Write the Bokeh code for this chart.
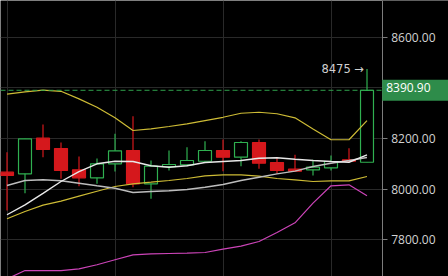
from bokeh.plotting import figure
from bokeh.models import Range1d, FixedTicker, NumeralTickFormatter, Label, Span, BoxAnnotation
from bokeh.embed import file_html
from bokeh.resources import INLINE

# ---- data ----
idx = list(range(21))
opens = [8066.5, 8060.2, 8201.2, 8160.4, 8076.0, 8044.4, 8099.8, 8152.5, 8020.6, 8089.0, 8095.8,
         8110.0, 8152.5, 8126.0, 8184.2, 8105.0, 8078.4, 8076.0, 8084.0, 8115.6, 8106.0]
closes = [8053.5, 8198.8, 8156.4, 8073.3, 8044.4, 8099.8, 8151.3, 8020.6, 8090.3, 8097.0, 8112.9,
          8152.5, 8126.0, 8184.2, 8102.2, 8073.3, 8070.5, 8086.3, 8109.0, 8110.0, 8390.9]
highs = [8145.7, 8198.8, 8255.4, 8184.2, 8128.7, 8120.8, 8218.6, 8288.3, 8112.9, 8152.5, 8165.5,
         8189.3, 8196.0, 8189.3, 8196.0, 8126.0, 8135.4, 8115.6, 8132.7, 8161.6, 8475.0]
lows = [7915.0, 7983.4, 8126.0, 8040.4, 8011.0, 8020.6, 8069.3, 8007.1, 7961.2, 8073.3, 8090.3,
        8110.0, 8070.5, 8090.3, 8080.0, 8060.2, 8070.0, 8053.5, 8073.3, 8110.0, 8106.0]

upper_band = [8375.4, 8385.0, 8391.3, 8387.0, 8357.0, 8324.0, 8282.0, 8231.7, 8238.0, 8247.5, 8258.0,
              8271.0, 8284.0, 8300.0, 8304.0, 8298.0, 8282.0, 8238.0, 8195.0, 8195.0, 8271.0]
lower_band = [7882.0, 7911.0, 7936.0, 7952.0, 7971.5, 7991.0, 8010.0, 8020.6, 8027.0, 8033.7, 8041.6,
              8052.0, 8056.0, 8056.0, 8050.7, 8041.6, 8036.4, 8029.7, 8032.5, 8032.5, 8049.5]
slow_ma = [8013.9, 8033.7, 8036.4, 8032.5, 8023.0, 8012.7, 8003.0, 7986.0, 7990.0, 7992.8, 7998.0,
           8007.0, 8017.8, 8033.7, 8046.7, 8060.0, 8071.0, 8089.0, 8102.0, 8113.0, 8125.0]
fast_ma = [7898.0, 7937.4, 7983.0, 8029.7, 8069.0, 8099.8, 8110.0, 8109.0, 8092.0, 8086.0, 8092.0,
           8105.0, 8109.0, 8113.0, 8122.0, 8123.5, 8118.0, 8113.0, 8109.0, 8106.0, 8135.0]
magenta_line = [7644.0, 7677.0, 7677.0, 7677.0, 7684.0, 7700.0, 7720.0, 7739.4, 7743.0, 7744.6, 7746.0,
                7748.5, 7761.6, 7773.5, 7792.0, 7827.7, 7866.0, 7944.0, 8012.7, 8016.6, 7973.0]

y_ticks = [7800, 8000, 8200, 8400, 8600]
x_grid_ticks = [0, 6, 12, 18]

# ---- styles ----
UP = "#2fb050"
DOWN = "#d5181c"
BG = "#000000"
GRID = "#292929"

# x scale: 18 px per bar, frame spans the whole 448 px; price axis drawn at fixed location
px_per_bar = 18.0
x_start = -6.5 / px_per_bar
x_end = x_start + 448 / px_per_bar
axis_x = x_start + 381.7 / px_per_bar

p = figure(width=448, height=276, output_backend="svg", toolbar_location=None,
           x_range=Range1d(x_start, x_end), y_range=Range1d(7653.5, 8746.5),
           y_axis_location="right", x_axis_location=None,
           min_border_left=0, min_border_top=0, min_border_bottom=0, min_border_right=0,
           background_fill_color=BG, border_fill_color=BG, outline_line_color=None)

p.ygrid.grid_line_color = GRID
p.ygrid.ticker = FixedTicker(ticks=y_ticks)
p.xgrid.ticker = FixedTicker(ticks=x_grid_ticks)
p.xgrid.grid_line_color = GRID

# mask grid lines in the price-scale area
p.add_layout(BoxAnnotation(left=axis_x, fill_color=BG, fill_alpha=1.0, line_color=None,
                           level="underlay"))

ax = p.yaxis[0]
ax.fixed_location = axis_x
ax.ticker = FixedTicker(ticks=y_ticks)
ax.formatter = NumeralTickFormatter(format="0.00")
ax.major_label_text_color = "#d2d2d2"
ax.major_label_text_font = "Open Sans"
ax.major_label_text_font_size = "12px"
ax.axis_line_color = "#7c7c7c"
ax.major_tick_line_color = "#7c7c7c"
ax.major_tick_out = 5
ax.major_tick_in = 0
ax.minor_tick_line_color = None
ax.major_label_standoff = 4

# candles
colors = [UP if c >= o else DOWN for o, c in zip(opens, closes)]
fills = [BG if c >= o else DOWN for o, c in zip(opens, closes)]
tops = [max(o, c) for o, c in zip(opens, closes)]
bots = [min(o, c) for o, c in zip(opens, closes)]

p.segment(x0=idx, y0=lows, x1=idx, y1=highs, line_color=colors, line_width=1.2)
p.vbar(x=idx, width=0.72, top=tops, bottom=bots, fill_color=fills, line_color=colors, line_width=1.2)

# indicator lines
p.line(idx, upper_band, line_color="#cdbb35", line_width=1.2)
p.line(idx, lower_band, line_color="#cdbb35", line_width=1.2)
p.line(idx, slow_ma, line_color="#bdbdbd", line_width=1.4)
p.line(idx, fast_ma, line_color="#e8e8e8", line_width=1.4)
p.line(idx, magenta_line, line_color="#cc44b8", line_width=1.2)

# last price line and label
p.add_layout(Span(location=closes[-1], dimension="width", line_color="#2ea04c",
                  line_dash="5 3", line_width=1))
p.add_layout(Label(x=axis_x, y=closes[-1], text=f"{closes[-1]:.2f}", text_align="left",
                   text_baseline="middle", text_color="#ffffff", text_font="Open Sans",
                   text_font_size="12px", background_fill_color="#2e8c4a",
                   padding=(4, 22, 3, 9)))

# high annotation
p.add_layout(Label(x=idx[-1], y=highs[-1], text=f"{highs[-1]:.0f} \u2192", text_align="right",
                   text_baseline="middle", x_offset=-3, text_color="#d0d0d0",
                   text_font="DejaVu Sans", text_font_size="11.5px"))

open("out.html", "w").write(file_html(p, INLINE))
